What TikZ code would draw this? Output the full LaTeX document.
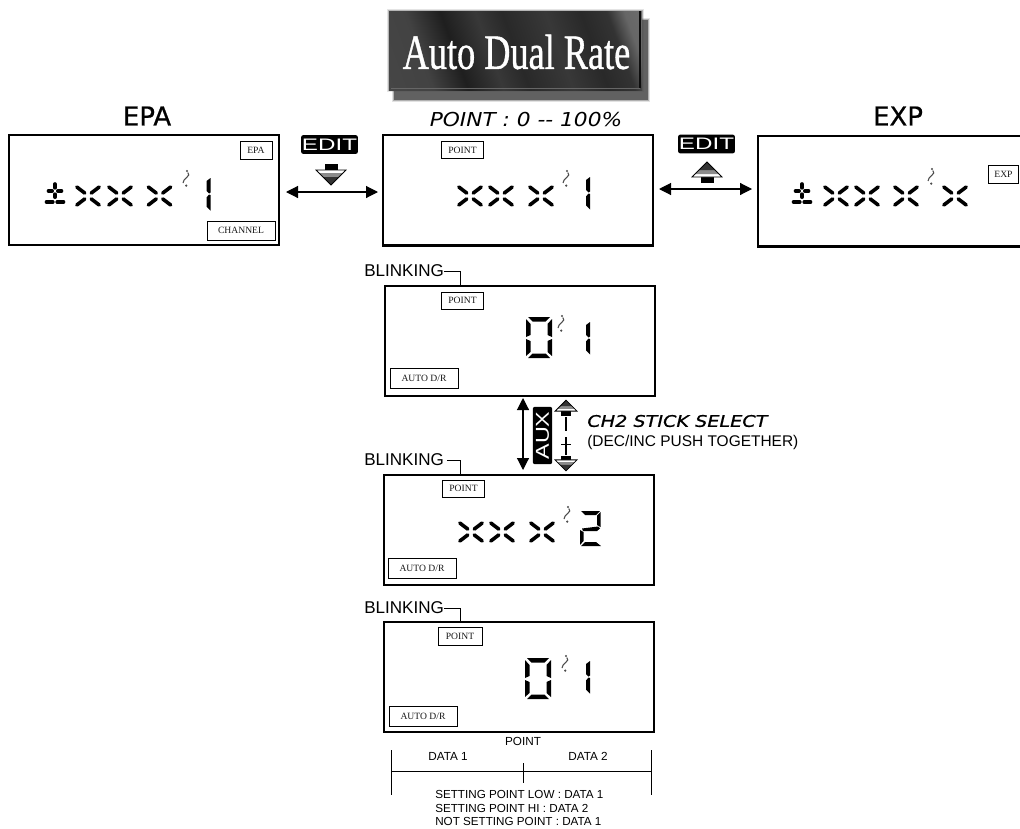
\documentclass[tikz,border=0pt]{standalone}
\usepackage{fontspec}
\setmainfont{Liberation Sans}
\newfontfamily\dejavu{DejaVu Sans}
\newfontfamily\dejavuh[FakeBold=0.7]{DejaVu Sans}
\newfontfamily\serifx{Liberation Serif}
\newfontfamily\serifh[FakeBold=0.9]{Liberation Serif}
\usetikzlibrary{arrows.meta,calc,shadings}
\newcommand{\fsz}[1]{\fontsize{#1}{#1}\selectfont}
\pgfdeclarehorizontalshading{plate}{100bp}{
  color(0bp)=(black!70); color(28bp)=(black!74); color(36bp)=(black!88);
  color(44bp)=(black!78); color(50bp)=(black!84); color(60bp)=(black!78);
  color(68bp)=(black!84); color(74bp)=(black!80); color(78bp)=(black!60); color(100bp)=(black!45)}
\tikzset{
  x=0.75pt,y=-0.75pt,
  screenthin/.style={draw=black,line width=0.9pt,fill=white,inner sep=0pt,outer sep=0pt,anchor=north west},
  screenthick/.style={draw=black,line width=1.9pt,fill=white,inner sep=0pt,outer sep=0pt,anchor=north west},
  tag/.style={draw=black,line width=0.7pt,fill=white,inner sep=0pt,font=\serifx\fsz{7.2},text=black!90},
  biglabel/.style={font=\dejavuh\fsz{19.5},text=black},
  obl/.style={font=\dejavu\itshape\fsz{14.4},xscale=1.13},
  small/.style={font=\fsz{8.8}},
  blink/.style={font=\fsz{12.8},anchor=west,inner sep=0pt},
  arrowdbl/.style={{Triangle[length=9pt,width=9pt]}-{Triangle[length=9pt,width=9pt]},line width=0.85pt,black},
  leader/.style={line width=0.6pt},
  seg/.style={line width=2.7pt,line cap=round,black},
  sq/.style={line width=0.8pt,black!70},
  keyfill/.style={fill=black,rounded corners=1.5pt,inner sep=0pt,text=white},
}
\newcommand{\xglyph}[2]{%
  \begin{scope}[shift={(#1,#2)}]
    \draw[seg] (-11.2,-9) -- (-3.2,-2.9);
    \draw[seg] (11.2,-9) -- (3.2,-2.9);
    \draw[seg] (-11.2,9) -- (-3.2,2.9);
    \draw[seg] (11.2,9) -- (3.2,2.9);
  \end{scope}}
\newcommand{\pmglyph}[2]{%
  \begin{scope}[shift={(#1,#2)}]
    \draw[seg] (-6.5,-2) -- (-2.8,-2);
    \draw[seg] (6.5,-2) -- (2.8,-2);
    \draw[seg] (0,-9) -- (0,-5.2);
    \draw[seg] (0,1.2) -- (0,4.2);
    \draw[seg] (-8.5,9) -- (-2.2,9);
    \draw[seg] (8.5,9) -- (2.2,9);
  \end{scope}}
\newcommand{\sqglyph}[2]{%
  \begin{scope}[shift={(#1,#2)}]
    \draw[sq] (5.8,2.5) .. controls (10,6) and (0.5,8.5) .. (1,13);
    \fill[black!70] (5,1) circle (1.2);
    \fill[black!70] (4.2,15.6) circle (1.2);
  \end{scope}}
\newcommand{\oneglyph}[2]{%
  \begin{scope}[shift={(#1,#2)}]
    \fill (2,0) -- (2,14.5) -- (0.5,15.5) -- (-2,13) -- (-2,3) -- cycle;
    \fill (2,17) -- (2,32.5) -- (-2,28.5) -- (-2,19.5) -- (0.5,16.5) -- cycle;
  \end{scope}}
\newcommand{\zeroglyph}[2]{%
  \begin{scope}[shift={(#1,#2)}]
    \fill (2,0) -- (24,0) -- (19.5,4.5) -- (6.5,4.5) -- cycle;
    \fill (2,41) -- (24,41) -- (19.5,36.5) -- (6.5,36.5) -- cycle;
    \fill (0,2) -- (4.5,7) -- (4.5,18) -- (0,20) -- cycle;
    \fill (26,2) -- (21.5,7) -- (21.5,18) -- (26,20) -- cycle;
    \fill (0,22) -- (4.5,24) -- (4.5,35) -- (0,39) -- cycle;
    \fill (26,22) -- (21.5,24) -- (21.5,35) -- (26,39) -- cycle;
  \end{scope}}
\newcommand{\twoglyph}[2]{%
  \begin{scope}[shift={(#1,#2)}]
    \fill (1,0) -- (20,0) -- (16,4) -- (5,4) -- cycle;
    \fill (20.5,1) -- (20.5,16) -- (17,14) -- (17,4.5) -- cycle;
    \fill (2,17.5) -- (18,15.5) -- (20,17.5) -- (17,20) -- (3,20) -- cycle;
    \fill (0,19) -- (3.5,21) -- (3.5,30) -- (0,34) -- cycle;
    \fill (1,35) -- (5,31) -- (16,31) -- (21,35) -- cycle;
  \end{scope}}
\newcommand{\downicon}[3]{%
  \begin{scope}[shift={(#1,#2)},scale=#3]
    \fill (-6.5,0) rectangle (6.5,6);
    \fill[white] (-15,6) -- (15,6) -- (0,21) -- cycle;
    \fill[black!45] (-12,9) -- (12,9) -- (8,13) -- (-8,13) -- cycle;
    \fill[black!80] (-8,13) -- (8,13) -- (0,21) -- cycle;
    \draw[line width=0.6pt] (-15,6) -- (15,6) -- (0,21) -- cycle;
  \end{scope}}
\newcommand{\upicon}[3]{%
  \begin{scope}[shift={(#1,#2)},scale=#3]
    \fill (-6.5,0) rectangle (6.5,-6);
    \fill[white] (-15,-6) -- (15,-6) -- (0,-21) -- cycle;
    \fill[black!45] (-12,-9) -- (12,-9) -- (8,-13) -- (-8,-13) -- cycle;
    \fill[black!80] (-8,-13) -- (8,-13) -- (0,-21) -- cycle;
    \draw[line width=0.6pt] (-15,-6) -- (15,-6) -- (0,-21) -- cycle;
  \end{scope}}
\begin{document}
\begin{tikzpicture}
\useasboundingbox (0,0) rectangle (1020,828);
\fill[white] (0,0) rectangle (1020,828);

% Title plate
\foreach \o/\op in {2/0.15,1/0.3,0/0.7}{
  \fill[black!75,opacity=\op] (394-\o,20-\o) rectangle (648+\o,100+\o);
}
\foreach \o/\op in {2/0.15,1/0.3}{
  \fill[black!70,opacity=\op] (389-\o,11-\o) rectangle (642+\o,90+\o);
}
\shade[shading=plate,shading angle=20] (389,11) rectangle (642,90);
\draw[black!60,line width=0.7pt] (391,88) -- (640,88);
\draw[black!95,line width=1pt] (640,11) -- (640,88);
\node[text=white,font=\serifh\fsz{37},xscale=0.735,inner sep=0pt] (title) at (516.5,52) {Auto Dual Rate};

% Headings
\node[biglabel,inner sep=0pt] (hepa) at (147,116) {EPA};
\node[obl,inner sep=0pt] (hpoint) at (526,120) {POINT : 0 -- 100\%};
\node[biglabel,inner sep=0pt] (hexp) at (898,116) {EXP};

% Screens
\node[screenthin,minimum width=202.5pt,minimum height=82.5pt] (epa) at (9,135) {};
\node[screenthick,minimum width=202.5pt,minimum height=83pt] (pt) at (383,135) {};
\node[screenthick,minimum width=210pt,minimum height=83pt] (exp) at (758,136) {};
\node[screenthick,minimum width=202.5pt,minimum height=82.5pt] (b2) at (385,286) {};
\node[screenthick,minimum width=202.5pt,minimum height=82.5pt] (b3) at (384,475) {};
\node[screenthick,minimum width=202.5pt,minimum height=82.5pt] (b4) at (384,622) {};

% Tags
\node[tag,minimum width=24pt,minimum height=13.5pt] (tepa) at (256,150) {EPA};
\node[tag,minimum width=51pt,minimum height=14.2pt] (tchan) at (241,230.5) {CHANNEL};
\node[tag,minimum width=32pt,minimum height=12.8pt] (tp1) at (462.5,150) {POINT};
\node[tag,minimum width=23pt,minimum height=13.5pt] (texp) at (1003.5,174) {EXP};
\node[tag,minimum width=32pt,minimum height=12.8pt] (tp2) at (462.5,300.5) {POINT};
\node[tag,minimum width=51pt,minimum height=15pt] (ta2) at (424,378) {AUTO D/R};
\node[tag,minimum width=32pt,minimum height=12.8pt] (tp3) at (463.5,488.5) {POINT};
\node[tag,minimum width=51pt,minimum height=15pt] (ta3) at (422,568) {AUTO D/R};
\node[tag,minimum width=33pt,minimum height=13.5pt] (tp4) at (460,636) {POINT};
\node[tag,minimum width=51pt,minimum height=14.5pt] (ta4) at (423,716.5) {AUTO D/R};

% Segment glyphs
\pmglyph{55}{193}
\xglyph{88}{196} \xglyph{120}{196} \xglyph{159.5}{196}
\sqglyph{182}{170}
\oneglyph{208.5}{178}
\xglyph{470}{196} \xglyph{501}{196} \xglyph{541}{196}
\sqglyph{562}{170}
\oneglyph{588}{177}
\pmglyph{802}{193}
\xglyph{836}{196} \xglyph{867}{196} \xglyph{906}{196}
\sqglyph{927}{168}
\xglyph{955}{196}
\zeroglyph{526}{317}
\sqglyph{557}{315}
\oneglyph{588}{322}
\xglyph{471}{532} \xglyph{502}{532} \xglyph{542}{532}
\sqglyph{563}{506}
\twoglyph{580}{511}
\zeroglyph{525}{658}
\sqglyph{561}{655}
\oneglyph{588}{661}

% EDIT keys
\node[keyfill,minimum width=42.5pt,minimum height=14pt,font=\fsz{12.5}] (e1) at (329.5,144.5) {\scalebox{1.45}[1]{EDIT}};
\node[keyfill,minimum width=42.5pt,minimum height=14pt,font=\fsz{12.5}] (e2) at (706.5,144) {\scalebox{1.45}[1]{EDIT}};
\downicon{331}{164}{1}
\upicon{707}{183}{1}

% Horizontal arrows
\draw[arrowdbl,shorten <=5.25pt,shorten >=3.75pt] ([yshift=-1.5pt]epa.east) -- ([yshift=-1.25pt]pt.west);
\draw[arrowdbl,shorten <=4.5pt,shorten >=4.5pt] ([yshift=1pt]pt.east) -- ([yshift=1.75pt]exp.west);

% Blink leaders
\node[blink] (bl1) at (364,271) {BLINKING};
\node[blink] (bl2) at (364,460) {BLINKING};
\node[blink] (bl3) at (364,608) {BLINKING};
\coordinate (c1) at (460,286);
\coordinate (c2) at (460,475);
\coordinate (c3) at (460,622);
\draw[leader] (bl1.east) -| (c1);
\draw[leader] ([xshift=2pt]bl2.east) -| (c2);
\draw[leader] (bl3.east) -| (c3);

% Vertical arrow
\draw[arrowdbl,shorten <=1.5pt,shorten >=3.75pt] ([xshift=2.25pt]b2.south) -- ([xshift=3pt]b3.north);
\node[keyfill,minimum width=14.5pt,minimum height=43pt] (aux) at (542.5,435.5) {\rotatebox{90}{\fsz{14}\scalebox{1.25}[1]{AUX}}};
\upicon{566}{415.5}{0.73}
\downicon{566}{455.5}{0.73}
\coordinate (s1) at (566,417);
\coordinate (s2) at (566,431);
\coordinate (s3) at (566,437);
\coordinate (s4) at (566,455);
\coordinate (s5) at (561,444.5);
\coordinate (s6) at (571,444.5);
\draw[line width=1pt] (s1) -- (s2);
\draw[line width=1pt] (s3) -- (s4);
\draw[line width=1pt] (s5) -- (s6);

\node[font=\dejavuh\itshape\fsz{12},xscale=1.2,anchor=west,inner sep=0pt] (ch) at (587,421) {CH2 STICK SELECT};
\node[font=\fsz{11.6},anchor=west,inner sep=0pt] (dec) at (587,442.5) {(DEC/INC PUSH TOGETHER)};

% Bottom
\node[small,inner sep=0pt] (lp) at (523,741) {POINT};
\node[small,inner sep=0pt] (d1) at (448,756) {DATA 1};
\node[small,inner sep=0pt] (d2) at (588,756) {DATA 2};
\coordinate (tl1) at (391,750);
\coordinate (tl2) at (391,795);
\coordinate (tr1) at (651,750);
\coordinate (tr2) at (651,795);
\coordinate (ml) at (391,771);
\coordinate (mr) at (652,771);
\coordinate (m1) at (523,763);
\coordinate (m2) at (523,783);
\draw[leader] (tl1) -- (tl2);
\draw[leader] (tr1) -- (tr2);
\draw[leader] (ml) -- (mr);
\draw[leader] (m1) -- (m2);
\node[font=\fsz{8.75},anchor=west,inner sep=0pt] (n1) at (435,794) {SETTING POINT LOW : DATA 1};
\node[font=\fsz{8.75},anchor=west,inner sep=0pt] (n2) at (435,808) {SETTING POINT HI : DATA 2};
\node[font=\fsz{8.75},anchor=west,inner sep=0pt] (n3) at (435,821) {NOT SETTING POINT : DATA 1};
\end{tikzpicture}
\end{document}
